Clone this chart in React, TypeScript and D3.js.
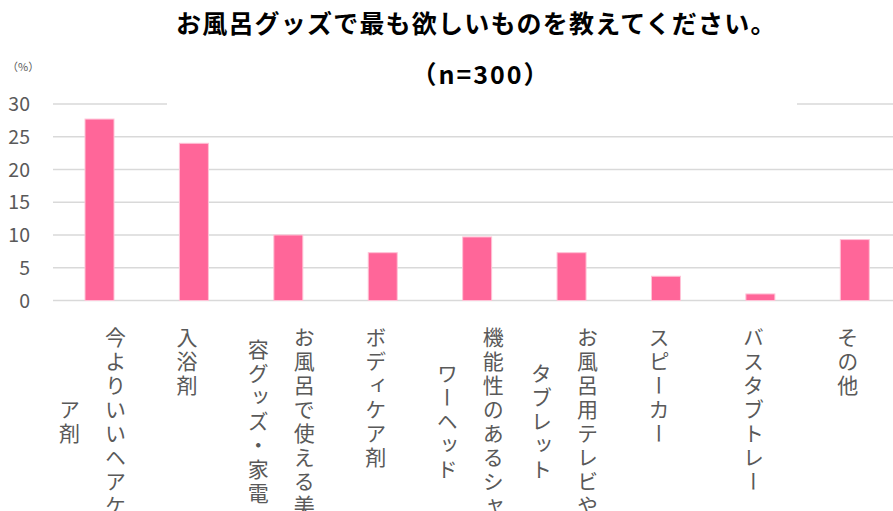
import React from "react";
import * as d3 from "d3";

const categories: string[] = [
  "今よりいいヘアケア剤",
  "入浴剤",
  "お風呂で使える美容グッズ・家電",
  "ボディケア剤",
  "機能性のあるシャワーヘッド",
  "お風呂用テレビやタブレット",
  "スピーカー",
  "バスタブトレー",
  "その他",
];
const values: number[] = [27.7, 24.0, 10.0, 7.3, 9.7, 7.3, 3.7, 1.0, 9.3];
const yTicks: number[] = [0, 5, 10, 15, 20, 25, 30];
const title = "お風呂グッズで最も欲しいものを教えてください。";
const subtitle = "（n=300）";
const unitLabel = "（%）";

const W = 893;
const H = 511;
const FONT = "'Noto Sans CJK JP', 'Noto Sans', sans-serif";

export default function App() {
  const x = d3.scaleBand<string>().domain(categories).range([52.3, 902]).padding(0);
  const y = d3.scaleLinear().domain([0, 30]).range([300.5, 104]);
  const barW = x.bandwidth() * 0.307;
  const charsPerCol = 8;
  const colPitch = 46;
  const charPitch = 24;
  const labelTop = 327;

  return (
    <svg
      width={W}
      height={H}
      style={{ position: "absolute", left: 0, top: 0, background: "#fff" }}
    >
      <rect x={0} y={0} width={W} height={H} fill="#fff" />
      {yTicks.map((t) => (
        <line
          key={"g" + t}
          x1={53}
          x2={W}
          y1={y(t)}
          y2={y(t)}
          stroke="#d9d9d9"
          strokeWidth={1.6}
        />
      ))}
      <rect x={167} y={55} width={630} height={52} fill="#fff" />
      {yTicks.map((t) => (
        <text
          key={"t" + t}
          x={30}
          y={y(t)}
          dy="0.36em"
          textAnchor="end"
          fontFamily={FONT}
          fontSize={19.5}
          fill="#595959"
        >
          {t}
        </text>
      ))}
      <text x={7} y={71} fontFamily={FONT} fontSize={11} fill="#595959">
        {unitLabel}
      </text>
      {categories.map((c, i) => {
        const cx = (x(c) as number) + x.bandwidth() / 2;
        return (
          <rect
            key={"b" + c}
            x={cx - barW / 2}
            y={y(values[i])}
            width={barW}
            height={y(0) - y(values[i])}
            fill="#FF6699"
            stroke="#FFC2D6"
            strokeWidth={1}
          />
        );
      })}
      {categories.map((c) => {
        const cx = (x(c) as number) + x.bandwidth() / 2 - 7;
        const chunks = c.match(new RegExp(".{1," + charsPerCol + "}", "g")) || [c];
        const n = chunks.length;
        const maxLen = d3.max(chunks, (s) => s.length) as number;
        const cy = labelTop + (maxLen * charPitch) / 2;
        return chunks.map((chunk, j) => (
          <text
            key={"l" + c + j}
            x={cx + ((n - 1) / 2 - j) * colPitch}
            y={cy}
            textAnchor="middle"
            fontFamily={FONT}
            fontSize={21}
            letterSpacing={3}
            fill="#595959"
            style={{ writingMode: "vertical-rl" } as React.CSSProperties}
          >
            {chunk}
          </text>
        ));
      })}
      <text
        x={176}
        y={33}
        fontFamily={FONT}
        fontWeight={700}
        fontSize={25}
        letterSpacing={1.2}
        fill="#000"
      >
        {title}
      </text>
      <text
        x={481}
        y={84}
        textAnchor="middle"
        fontFamily={FONT}
        fontWeight={700}
        fontSize={25}
        letterSpacing={2}
        fill="#000"
      >
        {subtitle}
      </text>
    </svg>
  );
}
